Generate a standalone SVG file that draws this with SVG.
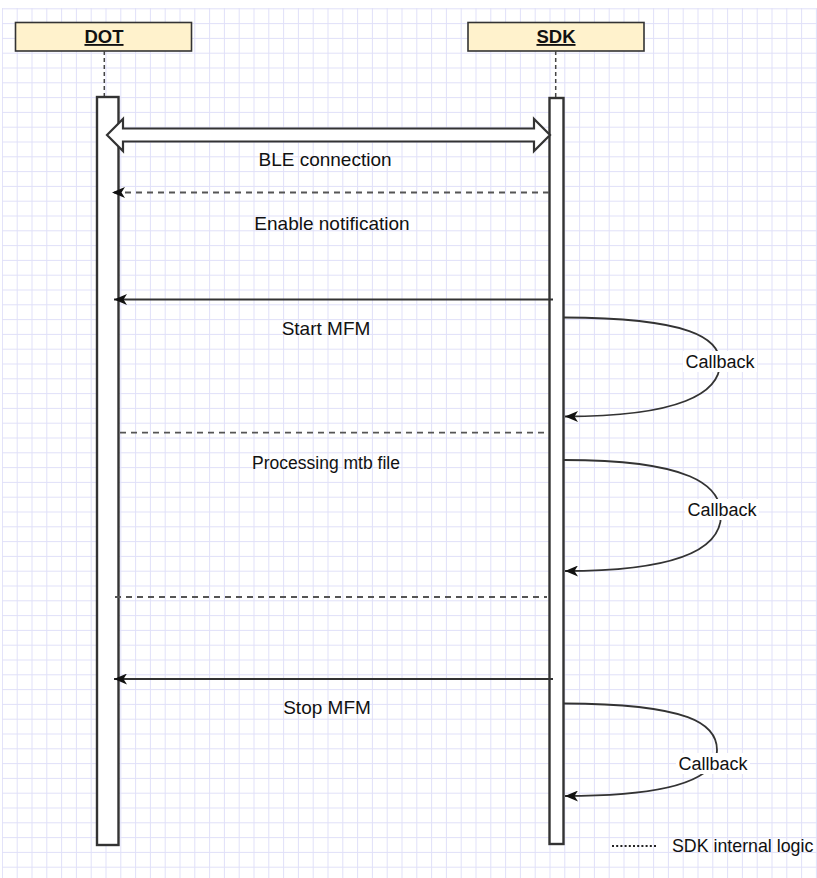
<svg xmlns="http://www.w3.org/2000/svg" width="817" height="878" viewBox="0 0 817 878">
<defs>
  <pattern id="grid" patternUnits="userSpaceOnUse" x="1.9" y="8.3" width="14.8" height="14.8">
    <path d="M0 0.5 H14.8 M0.5 0 V14.8" fill="none" stroke="#e0e0f8" stroke-width="1"/>
  </pattern>
  <marker id="ah" markerUnits="userSpaceOnUse" viewBox="0 0 13 11" refX="13" refY="5.5" markerWidth="13" markerHeight="11" orient="auto">
    <path d="M0 0 L13 5.5 L0 11 L3.5 5.5 Z" fill="#111"/>
  </marker>
</defs>
<style>
  .hdr { fill: #fff2cc; stroke: #333; stroke-width: 1.6; }
  .hdrt { font-family: "Liberation Sans", Arial, sans-serif; font-size: 18.5px; font-weight: bold; text-decoration: underline; fill: #111; text-anchor: middle; }
  .life { fill: none; stroke: #444; stroke-width: 1.5; stroke-dasharray: 4 3; }
  .act { fill: #fff; stroke: #333; stroke-width: 2.4; }
  .msg { fill: none; stroke: #333; stroke-width: 1.8; }
  .dash { stroke-dasharray: 6 5; stroke: #555; }
  .lbl { font-family: "Liberation Sans", Arial, sans-serif; font-size: 19px; fill: #111; text-anchor: middle; }
  .cb { font-size: 18px; }
  .lbg { fill: #fff; }
</style>
<rect x="0" y="0" width="817" height="878" fill="#fff"/>
<rect x="2" y="8" width="815" height="870" fill="url(#grid)"/>

<g id="dot">
  <rect class="hdr" x="15.5" y="22.5" width="176" height="28.5"/>
  <text class="hdrt" x="104" y="43">DOT</text>
  <line class="life" x1="104.3" y1="51" x2="104.3" y2="97"/>
  <rect class="act" x="97" y="97" width="21.5" height="748"/>
</g>

<g id="sdk">
  <rect class="hdr" x="468" y="22.5" width="176" height="28.5"/>
  <text class="hdrt" x="556" y="43">SDK</text>
  <line class="life" x1="555.7" y1="51" x2="555.7" y2="98"/>
  <rect class="act" x="549.5" y="98" width="14" height="746"/>
</g>

<g id="connectors">
  <path d="M107 135 L123 119 L123 128.5 L534 128.5 L534 119 L550 135 L534 151 L534 141.5 L123 141.5 L123 151 Z" fill="#fff" stroke="#333" stroke-width="2.2" stroke-linejoin="miter"/>
  <line class="msg dash" x1="549" y1="192.5" x2="112" y2="192.5" marker-end="url(#ah)"/>
  <line class="msg" x1="553" y1="299.5" x2="114" y2="299.5" marker-end="url(#ah)"/>
  <path class="msg" d="M564 317.5 C690 318 720 338 720 363 C720 393 680 416.5 565 416.5" marker-end="url(#ah)"/>
  <line class="msg dash" x1="120" y1="432.7" x2="549" y2="432.7"/>
  <path class="msg" d="M564 460 C690 460 721 485 721 515 C721 548 680 571 565 571" marker-end="url(#ah)"/>
  <line class="msg dash" x1="115" y1="597" x2="547" y2="597"/>
  <line class="msg" x1="553" y1="679" x2="114" y2="679" marker-end="url(#ah)"/>
  <path class="msg" d="M564 703.5 C690 704 717 724 717 750 C717 776 680 796 565 796" marker-end="url(#ah)"/>
  <line x1="612" y1="846" x2="658" y2="846" stroke="#222" stroke-width="2" stroke-dasharray="2 2.2"/>
</g>

<g id="labels">
  <text class="lbl" x="325" y="166">BLE connection</text>
  <text class="lbl" x="332" y="230">Enable notification</text>
  <text class="lbl" x="326" y="335">Start MFM</text>
  <rect class="lbg" x="683" y="351" width="74" height="21"/>
  <text class="lbl cb" x="720" y="368">Callback</text>
  <text class="lbl" x="326" y="469" style="font-size:17.5px">Processing mtb file</text>
  <rect class="lbg" x="685" y="499" width="74" height="21"/>
  <text class="lbl cb" x="722" y="516">Callback</text>
  <text class="lbl" x="327" y="714">Stop MFM</text>
  <rect class="lbg" x="676" y="753" width="74" height="21"/>
  <text class="lbl cb" x="713" y="770">Callback</text>
  <text class="lbl" x="672" y="852" style="text-anchor:start;font-size:17.8px">SDK internal logic</text>
</g>
</svg>
